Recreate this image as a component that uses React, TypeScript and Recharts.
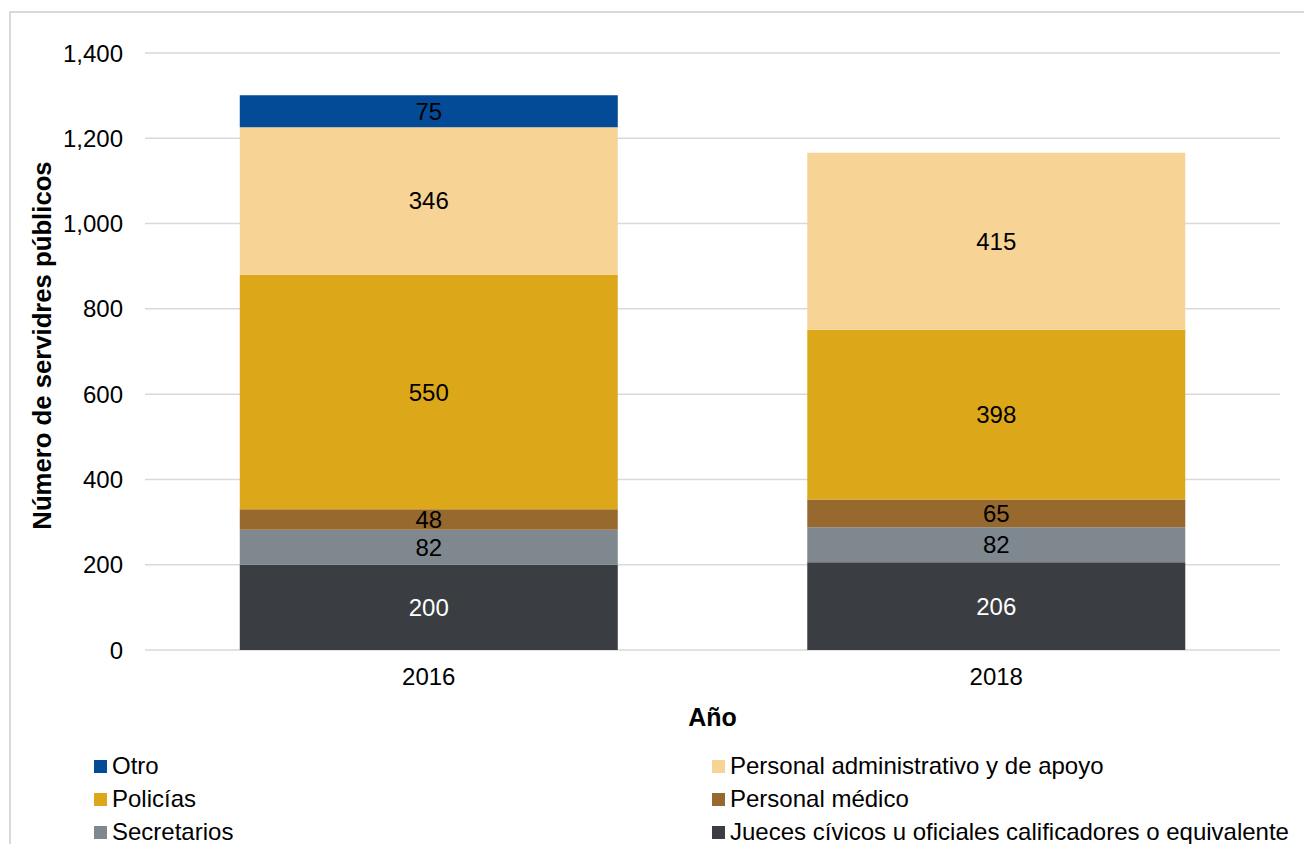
import React from 'react';
import { BarChart, Bar, XAxis, YAxis, CartesianGrid, LabelList, Label } from 'recharts';

const years = ['2016', '2018'];
const jueces = [200, 206];
const secretarios = [82, 82];
const medico = [48, 65];
const policias = [550, 398];
const administrativo = [346, 415];
const otro: (number | null)[] = [75, null];
const yTicks = [0, 200, 400, 600, 800, 1000, 1200, 1400];

const series = [
  { key: 'jueces', name: 'Jueces cívicos u oficiales calificadores o equivalente', values: jueces, color: '#3A3E42', labelColor: '#FFFFFF' },
  { key: 'secretarios', name: 'Secretarios', values: secretarios, color: '#7E888E', labelColor: '#000000' },
  { key: 'medico', name: 'Personal médico', values: medico, color: '#97692E', labelColor: '#000000' },
  { key: 'policias', name: 'Policías', values: policias, color: '#DCA819', labelColor: '#000000' },
  { key: 'administrativo', name: 'Personal administrativo y de apoyo', values: administrativo, color: '#F8D396', labelColor: '#000000' },
  { key: 'otro', name: 'Otro', values: otro, color: '#034B96', labelColor: '#000000' },
];

const legendRows = [
  ['otro', 'administrativo'],
  ['policias', 'medico'],
  ['secretarios', 'jueces'],
];

const data = years.map((y, i) => {
  const row: Record<string, any> = { year: y };
  series.forEach((s) => {
    row[s.key] = s.values[i];
  });
  return row;
});

const FONT = '"Liberation Sans", Arial, sans-serif';

export default function App() {
  return (
    <div
      style={{
        position: 'absolute',
        left: 0,
        top: 0,
        width: 1304,
        height: 844,
        overflow: 'hidden',
        background: '#fff',
        fontFamily: FONT,
      }}
    >
      <div
        style={{
          position: 'absolute',
          left: 9,
          top: 11,
          width: 1400,
          height: 1000,
          border: '2px solid #D9D9D9',
        }}
      />
      <div style={{ position: 'absolute', left: 0, top: 0 }}>
        <BarChart
          width={1304}
          height={844}
          data={data}
          margin={{ top: 53, right: 24, left: 0, bottom: 136 }}
          barCategoryGap="16.7%"
        >
          <CartesianGrid vertical={false} stroke="#D9D9D9" strokeWidth={1.5} />
          <XAxis
            dataKey="year"
            axisLine={false}
            tickLine={false}
            tickSize={0}
            tickMargin={18}
            height={58}
            tick={{ fill: '#000', fontSize: 24, fontFamily: FONT }}
          >
            <Label
              value="Año"
              position="bottom"
              offset={0}
              style={{ fontSize: 25, fontWeight: 'bold', fill: '#000', fontFamily: FONT }}
            />
          </XAxis>
          <YAxis
            width={145}
            domain={[0, 1400]}
            ticks={yTicks}
            axisLine={false}
            tickLine={false}
            tickSize={0}
            tickMargin={22}
            tickFormatter={(v: number) => v.toLocaleString('en-US')}
            tick={{ fill: '#000', fontSize: 24, fontFamily: FONT }}
          >
            <Label
              value="Número de servidres públicos"
              angle={-90}
              position="insideLeft"
              offset={42}
              dy={-6}
              style={{ fontSize: 25.7, fontWeight: 'bold', fill: '#000', fontFamily: FONT, textAnchor: 'middle' }}
            />
          </YAxis>
          {series.map((s) => (
            <Bar key={s.key} dataKey={s.key} name={s.name} stackId="a" fill={s.color} isAnimationActive={false}>
              <LabelList
                dataKey={s.key}
                position="center"
                style={{ fontSize: 24, fill: s.labelColor, fontFamily: FONT }}
              />
            </Bar>
          ))}
        </BarChart>
      </div>
      {legendRows.map((row, ri) =>
        row.map((key, ci) => {
          const s = series.find((x) => x.key === key)!;
          return (
            <div
              key={key}
              style={{
                position: 'absolute',
                left: ci === 0 ? 94 : 712,
                top: 766 + ri * 33 - 14,
                height: 28,
                display: 'flex',
                alignItems: 'center',
                whiteSpace: 'nowrap',
              }}
            >
              <div style={{ width: 13, height: 13, background: s.color, marginRight: 5 }} />
              <span style={{ fontSize: 24, lineHeight: '28px', color: '#000', fontFamily: FONT }}>{s.name}</span>
            </div>
          );
        })
      )}
    </div>
  );
}
